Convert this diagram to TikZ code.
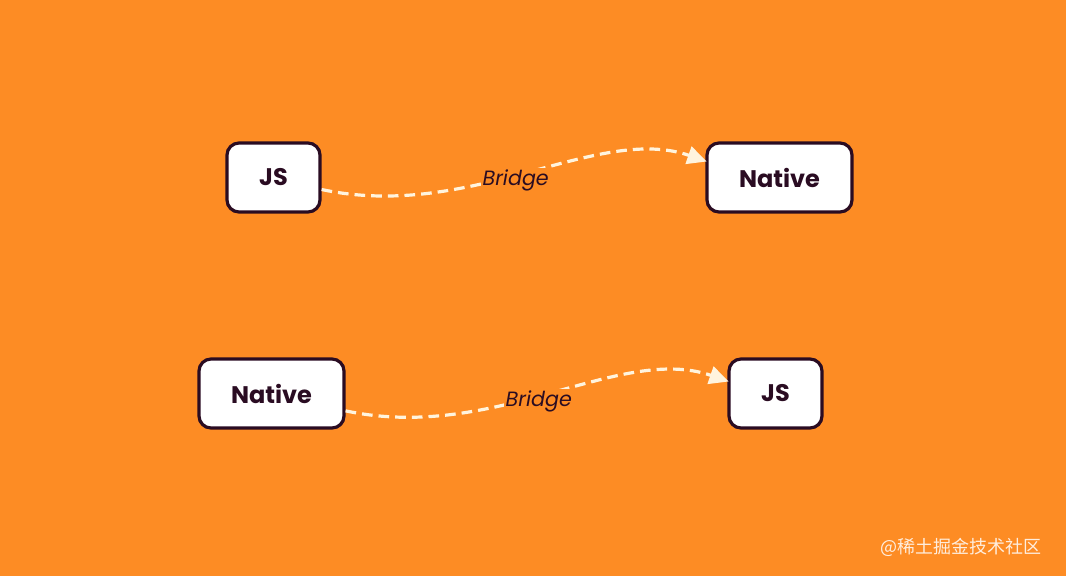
\documentclass[tikz,border=0pt]{standalone}
\usepackage{fontspec}
\setmainfont{Poppins}
\newfontfamily\cjk{Noto Sans CJK SC}
\usetikzlibrary{arrows.meta}
\definecolor{bg}{HTML}{FD8C24}
\definecolor{ink}{HTML}{2A0C22}
\definecolor{dashc}{HTML}{FFF4DE}
\tikzset{
  box/.style={draw=ink, line width=2.4pt, fill=white, rounded corners=9pt,
    minimum height=51.75pt, text=ink, font=\fontsize{18}{20}\selectfont\bfseries, inner sep=0pt},
  bridge/.style={draw=dashc, line width=2.4pt, dash pattern=on 8pt off 4.5pt,
    -{Triangle[length=14.5pt,width=13.5pt,fill=dashc]}},
  lbl/.style={fill=bg, inner sep=1.5pt, text=ink, font=\fontsize{15.5}{17}\selectfont\itshape}
}
\begin{document}
\begin{tikzpicture}[x=0.75pt,y=-0.75pt]
\fill[bg] (0,0) rectangle (1066,576);
\useasboundingbox (0,0) rectangle (1066,576);
\node[box, minimum width=69.75pt] (js1) at (273.5,177.5) {JS};
\node[box, minimum width=108.75pt] (nat1) at (779.5,177.5) {Native};
\node[box, minimum width=108.75pt] (nat2) at (271.5,393.5) {Native};
\node[box, minimum width=69.75pt] (js2) at (775.5,393.5) {JS};
\coordinate (s1) at ([yshift=-9pt]js1.east);
\coordinate (e1) at ([xshift=1pt,yshift=12pt]nat1.west);
\coordinate (s2) at ([yshift=-13pt]nat2.east);
\coordinate (e2) at ([xshift=1pt,yshift=9pt]js2.west);
\draw[bridge] (s1) .. controls +(150,32) and +(-110,-38) .. node[lbl, pos=0.465, yshift=-3pt] (b1) {Bridge} (e1);
\draw[bridge] (s2) .. controls +(150,32) and +(-110,-38) .. node[lbl, pos=0.465, yshift=-3pt] (b2) {Bridge} (e2);
\node[anchor=east, text=white, opacity=0.85, font=\cjk\fontsize{13.5}{15}\selectfont] (wm) at (1046,547) {@稀土掘金技术社区};
\end{tikzpicture}
\end{document}
